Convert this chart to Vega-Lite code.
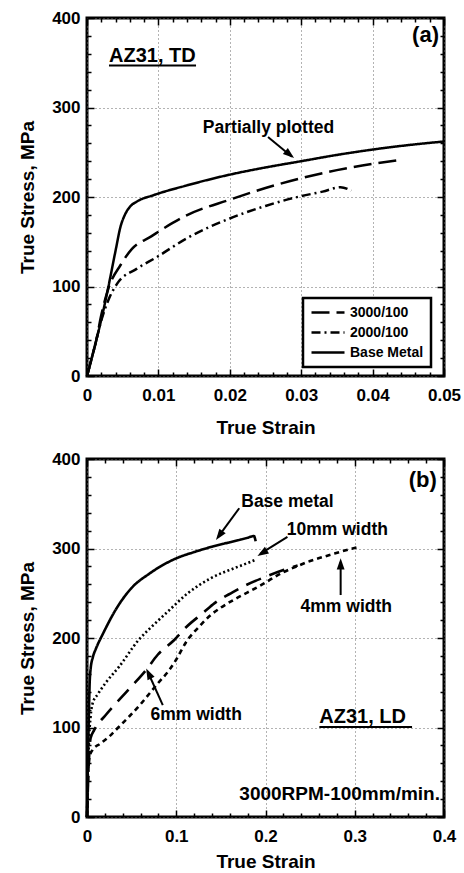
{
  "$schema": "https://vega.github.io/schema/vega-lite/v6.json",
  "padding": {"left": 17, "top": 7, "right": 5, "bottom": 0},
  "spacing": 9,
  "config": {
    "font": "Liberation Sans",
    "view": {"stroke": "black", "strokeWidth": 3},
    "axis": {
      "labelFont": "Liberation Sans", "labelFontWeight": "bold", "labelFontSize": 17, "labelColor": "black",
      "titleFont": "Liberation Sans", "titleFontWeight": "bold", "titleFontSize": 19, "titleColor": "black",
      "tickColor": "black", "tickWidth": 1.5, "domain": false, "labelFlush": false, "labelOverlap": false, "labelBound": false,
      "gridColor": "#666", "gridDash": [1, 3], "gridWidth": 1
    },
    "legend": {"strokeWidth": 2.5},
    "text": {"font": "Liberation Sans", "fontWeight": "bold", "color": "black"}
  },
  "datasets": {
    "curvesA": [
      {"series": "Base Metal", "strain": 0, "stress": 0},
      {"series": "Base Metal", "strain": 0.0005, "stress": 15},
      {"series": "Base Metal", "strain": 0.0013, "stress": 40},
      {"series": "Base Metal", "strain": 0.002, "stress": 63},
      {"series": "Base Metal", "strain": 0.003, "stress": 100},
      {"series": "Base Metal", "strain": 0.004, "stress": 140},
      {"series": "Base Metal", "strain": 0.0047, "stress": 167},
      {"series": "Base Metal", "strain": 0.0053, "stress": 180},
      {"series": "Base Metal", "strain": 0.006, "stress": 189},
      {"series": "Base Metal", "strain": 0.007, "stress": 195},
      {"series": "Base Metal", "strain": 0.0093, "stress": 202},
      {"series": "Base Metal", "strain": 0.014, "stress": 213},
      {"series": "Base Metal", "strain": 0.02, "stress": 225},
      {"series": "Base Metal", "strain": 0.025, "stress": 233},
      {"series": "Base Metal", "strain": 0.03, "stress": 240},
      {"series": "Base Metal", "strain": 0.035, "stress": 247},
      {"series": "Base Metal", "strain": 0.04, "stress": 253},
      {"series": "Base Metal", "strain": 0.045, "stress": 258},
      {"series": "Base Metal", "strain": 0.05, "stress": 262},
      {"series": "3000/100", "strain": 0, "stress": 0},
      {"series": "3000/100", "strain": 0.0005, "stress": 15},
      {"series": "3000/100", "strain": 0.0013, "stress": 40},
      {"series": "3000/100", "strain": 0.002, "stress": 68},
      {"series": "3000/100", "strain": 0.003, "stress": 98},
      {"series": "3000/100", "strain": 0.0047, "stress": 124},
      {"series": "3000/100", "strain": 0.0063, "stress": 142},
      {"series": "3000/100", "strain": 0.009, "stress": 156},
      {"series": "3000/100", "strain": 0.012, "stress": 171},
      {"series": "3000/100", "strain": 0.0141, "stress": 180},
      {"series": "3000/100", "strain": 0.02, "stress": 197},
      {"series": "3000/100", "strain": 0.025, "stress": 210},
      {"series": "3000/100", "strain": 0.03, "stress": 221},
      {"series": "3000/100", "strain": 0.035, "stress": 230},
      {"series": "3000/100", "strain": 0.04, "stress": 237},
      {"series": "3000/100", "strain": 0.0435, "stress": 241},
      {"series": "2000/100", "strain": 0, "stress": 0},
      {"series": "2000/100", "strain": 0.0005, "stress": 15},
      {"series": "2000/100", "strain": 0.0013, "stress": 40},
      {"series": "2000/100", "strain": 0.002, "stress": 62},
      {"series": "2000/100", "strain": 0.003, "stress": 85},
      {"series": "2000/100", "strain": 0.0042, "stress": 103},
      {"series": "2000/100", "strain": 0.007, "stress": 120},
      {"series": "2000/100", "strain": 0.0098, "stress": 133},
      {"series": "2000/100", "strain": 0.014, "stress": 154},
      {"series": "2000/100", "strain": 0.02, "stress": 176},
      {"series": "2000/100", "strain": 0.025, "stress": 190},
      {"series": "2000/100", "strain": 0.03, "stress": 201},
      {"series": "2000/100", "strain": 0.033, "stress": 206},
      {"series": "2000/100", "strain": 0.0355, "stress": 211},
      {"series": "2000/100", "strain": 0.0365, "stress": 209},
      {"series": "2000/100", "strain": 0.037, "stress": 207}
    ],
    "curvesB": [
      {"curve": "Base metal", "strain": 0, "stress": 0},
      {"curve": "Base metal", "strain": 0.001, "stress": 60},
      {"curve": "Base metal", "strain": 0.002, "stress": 110},
      {"curve": "Base metal", "strain": 0.003, "stress": 150},
      {"curve": "Base metal", "strain": 0.004, "stress": 165},
      {"curve": "Base metal", "strain": 0.0067, "stress": 179},
      {"curve": "Base metal", "strain": 0.01, "stress": 188},
      {"curve": "Base metal", "strain": 0.018, "stress": 205},
      {"curve": "Base metal", "strain": 0.033, "stress": 233},
      {"curve": "Base metal", "strain": 0.05, "stress": 256},
      {"curve": "Base metal", "strain": 0.07, "stress": 272},
      {"curve": "Base metal", "strain": 0.1, "stress": 289},
      {"curve": "Base metal", "strain": 0.12, "stress": 296},
      {"curve": "Base metal", "strain": 0.14, "stress": 302},
      {"curve": "Base metal", "strain": 0.16, "stress": 307},
      {"curve": "Base metal", "strain": 0.18, "stress": 312},
      {"curve": "Base metal", "strain": 0.187, "stress": 314},
      {"curve": "Base metal", "strain": 0.189, "stress": 308},
      {"curve": "10mm width", "strain": 0, "stress": 0},
      {"curve": "10mm width", "strain": 0.002, "stress": 80},
      {"curve": "10mm width", "strain": 0.004, "stress": 112},
      {"curve": "10mm width", "strain": 0.0063, "stress": 127},
      {"curve": "10mm width", "strain": 0.012, "stress": 137},
      {"curve": "10mm width", "strain": 0.021, "stress": 150},
      {"curve": "10mm width", "strain": 0.036, "stress": 168},
      {"curve": "10mm width", "strain": 0.058, "stress": 198},
      {"curve": "10mm width", "strain": 0.075, "stress": 215},
      {"curve": "10mm width", "strain": 0.09, "stress": 229},
      {"curve": "10mm width", "strain": 0.113, "stress": 250},
      {"curve": "10mm width", "strain": 0.139, "stress": 267},
      {"curve": "10mm width", "strain": 0.165, "stress": 278},
      {"curve": "10mm width", "strain": 0.183, "stress": 285},
      {"curve": "10mm width", "strain": 0.19, "stress": 288},
      {"curve": "6mm width", "strain": 0, "stress": 0},
      {"curve": "6mm width", "strain": 0.002, "stress": 60},
      {"curve": "6mm width", "strain": 0.004, "stress": 88},
      {"curve": "6mm width", "strain": 0.008, "stress": 97},
      {"curve": "6mm width", "strain": 0.021, "stress": 114},
      {"curve": "6mm width", "strain": 0.038, "stress": 133},
      {"curve": "6mm width", "strain": 0.049, "stress": 145},
      {"curve": "6mm width", "strain": 0.066, "stress": 164},
      {"curve": "6mm width", "strain": 0.079, "stress": 181},
      {"curve": "6mm width", "strain": 0.098, "stress": 198},
      {"curve": "6mm width", "strain": 0.111, "stress": 212},
      {"curve": "6mm width", "strain": 0.13, "stress": 228},
      {"curve": "6mm width", "strain": 0.143, "stress": 239},
      {"curve": "6mm width", "strain": 0.163, "stress": 251},
      {"curve": "6mm width", "strain": 0.178, "stress": 259},
      {"curve": "6mm width", "strain": 0.199, "stress": 268},
      {"curve": "6mm width", "strain": 0.22, "stress": 276},
      {"curve": "6mm width", "strain": 0.236, "stress": 281},
      {"curve": "4mm width", "strain": 0, "stress": 0},
      {"curve": "4mm width", "strain": 0.001, "stress": 40},
      {"curve": "4mm width", "strain": 0.003, "stress": 68},
      {"curve": "4mm width", "strain": 0.0063, "stress": 75},
      {"curve": "4mm width", "strain": 0.015, "stress": 82},
      {"curve": "4mm width", "strain": 0.025, "stress": 90},
      {"curve": "4mm width", "strain": 0.035, "stress": 100},
      {"curve": "4mm width", "strain": 0.047, "stress": 112},
      {"curve": "4mm width", "strain": 0.06, "stress": 126},
      {"curve": "4mm width", "strain": 0.07, "stress": 138},
      {"curve": "4mm width", "strain": 0.08, "stress": 150},
      {"curve": "4mm width", "strain": 0.092, "stress": 164},
      {"curve": "4mm width", "strain": 0.1, "stress": 176},
      {"curve": "4mm width", "strain": 0.112, "stress": 197},
      {"curve": "4mm width", "strain": 0.125, "stress": 212},
      {"curve": "4mm width", "strain": 0.139, "stress": 226},
      {"curve": "4mm width", "strain": 0.15, "stress": 234},
      {"curve": "4mm width", "strain": 0.165, "stress": 243},
      {"curve": "4mm width", "strain": 0.18, "stress": 251},
      {"curve": "4mm width", "strain": 0.195, "stress": 259},
      {"curve": "4mm width", "strain": 0.21, "stress": 268},
      {"curve": "4mm width", "strain": 0.221, "stress": 274},
      {"curve": "4mm width", "strain": 0.235, "stress": 280},
      {"curve": "4mm width", "strain": 0.25, "stress": 286},
      {"curve": "4mm width", "strain": 0.273, "stress": 293},
      {"curve": "4mm width", "strain": 0.29, "stress": 298},
      {"curve": "4mm width", "strain": 0.306, "stress": 302}
    ]
  },
  "resolve": {"scale": {"strokeDash": "independent", "x": "independent", "y": "independent"}},
  "vconcat": [
    {
      "width": 357,
      "height": 358,
      "resolve": {"axis": {"x": "independent", "y": "independent"}},
      "layer": [
        {
          "data": {"name": "curvesA"},
          "mark": {"type": "line", "color": "black", "strokeWidth": 2.5, "interpolate": "monotone", "strokeCap": "butt"},
          "encoding": {
            "x": {"field": "strain", "type": "quantitative", "scale": {"domain": [0, 0.05], "nice": false},
              "axis": {"orient": "bottom",
                "values": [0,0.002,0.004,0.006,0.008,0.01,0.012,0.014,0.016,0.018,0.02,0.022,0.024,0.026,0.028,0.03,0.032,0.034,0.036,0.038,0.04,0.042,0.044,0.046,0.048,0.05],
                "labelExpr": "abs(datum.value*100-round(datum.value*100))<0.001 ? format(datum.value,'~g') : ''",
                "grid": true,
                "gridOpacity": {"condition": {"test": "abs(datum.value*100-round(datum.value*100))<0.001", "value": 1}, "value": 0},
                "tickSize": {"condition": {"test": "abs(datum.value*100-round(datum.value*100))<0.001", "value": -7}, "value": -4},
                "labelPadding": 18, "title": "True Strain", "titlePadding": 12}},
            "y": {"field": "stress", "type": "quantitative", "scale": {"domain": [0, 400], "nice": false},
              "axis": {"orient": "left",
                "values": [0,20,40,60,80,100,120,140,160,180,200,220,240,260,280,300,320,340,360,380,400],
                "labelExpr": "datum.value % 100 === 0 ? format(datum.value,'d') : ''",
                "grid": true,
                "gridOpacity": {"condition": {"test": "datum.value % 100 === 0", "value": 1}, "value": 0},
                "tickSize": {"condition": {"test": "datum.value % 100 === 0", "value": -7}, "value": -4},
                "labelPadding": 14, "title": "True Stress, MPa", "titlePadding": 14}},
            "strokeDash": {"field": "series", "type": "nominal",
              "scale": {"domain": ["3000/100", "2000/100", "Base Metal"], "range": [[18, 7], [9, 4, 2, 4], [1, 0]]},
              "legend": {"orient": "none", "legendX": 216, "legendY": 280, "title": null,
                "symbolType": "M-1,0H4.5", "symbolSize": 144, "symbolStrokeWidth": 2.5, "symbolStrokeColor": "black", "symbolFillColor": "transparent",
                "labelFont": "Liberation Sans", "labelFontWeight": "bold", "labelFontSize": 14, "labelColor": "black",
                "strokeColor": "black", "fillColor": "white", "padding": 7, "rowPadding": 5, "labelOffset": 25}}
          }
        },
        {
          "data": {"values": [{"strain": 0.0493, "stress": 373, "label": "(a)"}]},
          "mark": {"type": "text", "align": "right", "baseline": "alphabetic", "fontSize": 22},
          "encoding": {
            "x": {"field": "strain", "type": "quantitative",
              "axis": {"orient": "top", "labels": false, "grid": false, "title": null,
                "values": [0,0.002,0.004,0.006,0.008,0.01,0.012,0.014,0.016,0.018,0.02,0.022,0.024,0.026,0.028,0.03,0.032,0.034,0.036,0.038,0.04,0.042,0.044,0.046,0.048,0.05],
                "tickSize": {"condition": {"test": "abs(datum.value*100-round(datum.value*100))<0.001", "value": -7}, "value": -4}}},
            "y": {"field": "stress", "type": "quantitative",
              "axis": {"orient": "right", "labels": false, "grid": false, "title": null,
                "values": [0,20,40,60,80,100,120,140,160,180,200,220,240,260,280,300,320,340,360,380,400],
                "tickSize": {"condition": {"test": "datum.value % 100 === 0", "value": -7}, "value": -4}}},
            "text": {"field": "label"}
          }
        },
        {
          "data": {"values": [{"strain": 0.00308, "stress": 351, "label": "AZ31, TD"}]},
          "mark": {"type": "text", "align": "left", "baseline": "alphabetic", "fontSize": 20},
          "encoding": {
            "x": {"field": "strain", "type": "quantitative", "axis": null},
            "y": {"field": "stress", "type": "quantitative", "axis": null},
            "text": {"field": "label"}
          }
        },
        {
          "data": {"values": [{"strain": 0.02542, "stress": 271.5, "label": "Partially plotted"}]},
          "mark": {"type": "text", "align": "center", "baseline": "alphabetic", "fontSize": 17.5},
          "encoding": {
            "x": {"field": "strain", "type": "quantitative", "axis": null},
            "y": {"field": "stress", "type": "quantitative", "axis": null},
            "text": {"field": "label"}
          }
        },
        {
          "data": {"values": [{"strain": 0.00308, "strain2": 0.01527, "stress": 347}]},
          "mark": {"type": "rule", "color": "black", "strokeWidth": 2},
          "encoding": {
            "x": {"field": "strain", "type": "quantitative", "axis": null},
            "x2": {"field": "strain2"},
            "y": {"field": "stress", "type": "quantitative", "axis": null}
          }
        },
        {
          "data": {"values": [{"strain": 0.02535, "stress": 267, "strain2": 0.0287, "stress2": 245}]},
          "mark": {"type": "rule", "color": "black", "strokeWidth": 2},
          "encoding": {
            "x": {"field": "strain", "type": "quantitative", "axis": null},
            "y": {"field": "stress", "type": "quantitative", "axis": null},
            "x2": {"field": "strain2"},
            "y2": {"field": "stress2"}
          }
        },
        {
          "data": {"values": [{"strain": 0.029, "stress": 243.6}]},
          "mark": {"type": "point", "shape": "M0,0L-0.35,1L0.35,1Z", "filled": true, "color": "black", "opacity": 1, "size": 500, "angle": 129},
          "encoding": {
            "x": {"field": "strain", "type": "quantitative", "axis": null},
            "y": {"field": "stress", "type": "quantitative", "axis": null}
          }
        }
      ]
    },
    {
      "width": 357,
      "height": 358,
      "resolve": {"axis": {"x": "independent", "y": "independent"}},
      "layer": [
        {
          "data": {"name": "curvesB"},
          "mark": {"type": "line", "color": "black", "strokeWidth": 2.6, "interpolate": "monotone", "strokeCap": "butt"},
          "encoding": {
            "x": {"field": "strain", "type": "quantitative", "scale": {"domain": [0, 0.4], "nice": false},
              "axis": {"orient": "bottom",
                "values": [0,0.02,0.04,0.06,0.08,0.1,0.12,0.14,0.16,0.18,0.2,0.22,0.24,0.26,0.28,0.3,0.32,0.34,0.36,0.38,0.4],
                "labelExpr": "abs(datum.value*10-round(datum.value*10))<0.001 ? format(datum.value,'~g') : ''",
                "grid": true,
                "gridOpacity": {"condition": {"test": "abs(datum.value*10-round(datum.value*10))<0.001", "value": 1}, "value": 0},
                "tickSize": {"condition": {"test": "abs(datum.value*10-round(datum.value*10))<0.001", "value": -7}, "value": -4},
                "labelPadding": 18, "title": "True Strain", "titlePadding": 5}},
            "y": {"field": "stress", "type": "quantitative", "scale": {"domain": [0, 400], "nice": false},
              "axis": {"orient": "left",
                "values": [0,20,40,60,80,100,120,140,160,180,200,220,240,260,280,300,320,340,360,380,400],
                "labelExpr": "datum.value % 100 === 0 ? format(datum.value,'d') : ''",
                "grid": true,
                "gridOpacity": {"condition": {"test": "datum.value % 100 === 0", "value": 1}, "value": 0},
                "tickSize": {"condition": {"test": "datum.value % 100 === 0", "value": -7}, "value": -4},
                "labelPadding": 14, "title": "True Stress, MPa", "titlePadding": 14}},
            "strokeDash": {"field": "curve", "type": "nominal",
              "scale": {"domain": ["Base metal", "10mm width", "6mm width", "4mm width"], "range": [[1, 0], [2, 2.5], [16, 9], [5, 4]]},
              "legend": null}
          }
        },
        {
          "data": {"values": [{"strain": 0.392, "stress": 369, "label": "(b)"}]},
          "mark": {"type": "text", "align": "right", "baseline": "alphabetic", "fontSize": 22},
          "encoding": {
            "x": {"field": "strain", "type": "quantitative",
              "axis": {"orient": "top", "labels": false, "grid": false, "title": null,
                "values": [0,0.02,0.04,0.06,0.08,0.1,0.12,0.14,0.16,0.18,0.2,0.22,0.24,0.26,0.28,0.3,0.32,0.34,0.36,0.38,0.4],
                "tickSize": {"condition": {"test": "abs(datum.value*10-round(datum.value*10))<0.001", "value": -7}, "value": -4}}},
            "y": {"field": "stress", "type": "quantitative",
              "axis": {"orient": "right", "labels": false, "grid": false, "title": null,
                "values": [0,20,40,60,80,100,120,140,160,180,200,220,240,260,280,300,320,340,360,380,400],
                "tickSize": {"condition": {"test": "datum.value % 100 === 0", "value": -7}, "value": -4}}},
            "text": {"field": "label"}
          }
        },
        {
          "data": {"values": [
            {"strain": 0.2246, "stress": 346.4, "label": "Base metal"},
            {"strain": 0.2805, "stress": 315, "label": "10mm width"},
            {"strain": 0.2905, "stress": 229, "label": "4mm width"},
            {"strain": 0.1223, "stress": 108.4, "label": "6mm width"}
          ]},
          "mark": {"type": "text", "align": "center", "baseline": "alphabetic", "fontSize": 17.5},
          "encoding": {
            "x": {"field": "strain", "type": "quantitative", "axis": null},
            "y": {"field": "stress", "type": "quantitative", "axis": null},
            "text": {"field": "label"}
          }
        },
        {
          "data": {"values": [{"strain": 0.2603, "stress": 105, "label": "AZ31, LD"}]},
          "mark": {"type": "text", "align": "left", "baseline": "alphabetic", "fontSize": 20},
          "encoding": {
            "x": {"field": "strain", "type": "quantitative", "axis": null},
            "y": {"field": "stress", "type": "quantitative", "axis": null},
            "text": {"field": "label"}
          }
        },
        {
          "data": {"values": [{"strain": 0.3955, "stress": 19, "label": "3000RPM-100mm/min."}]},
          "mark": {"type": "text", "align": "right", "baseline": "alphabetic", "fontSize": 19},
          "encoding": {
            "x": {"field": "strain", "type": "quantitative", "axis": null},
            "y": {"field": "stress", "type": "quantitative", "axis": null},
            "text": {"field": "label"}
          }
        },
        {
          "data": {"values": [{"strain": 0.2603, "strain2": 0.3642, "stress": 100.6}]},
          "mark": {"type": "rule", "color": "black", "strokeWidth": 2},
          "encoding": {
            "x": {"field": "strain", "type": "quantitative", "axis": null},
            "x2": {"field": "strain2"},
            "y": {"field": "stress", "type": "quantitative", "axis": null}
          }
        },
        {
          "data": {"values": [
            {"arrow": "base", "strain": 0.1706, "stress": 345, "strain2": 0.147, "stress2": 313},
            {"arrow": "10mm", "strain": 0.2246, "stress": 313, "strain2": 0.194, "stress2": 294},
            {"arrow": "4mm", "strain": 0.2842, "stress": 248, "strain2": 0.2842, "stress2": 285},
            {"arrow": "6mm", "strain": 0.0849, "stress": 125, "strain2": 0.0682, "stress2": 162}
          ]},
          "mark": {"type": "rule", "color": "black", "strokeWidth": 2},
          "encoding": {
            "x": {"field": "strain", "type": "quantitative", "axis": null},
            "y": {"field": "stress", "type": "quantitative", "axis": null},
            "x2": {"field": "strain2"},
            "y2": {"field": "stress2"}
          }
        },
        {
          "data": {"values": [{"strain": 0.1445, "stress": 309.5}]},
          "mark": {"type": "point", "shape": "M0,0L-0.35,1L0.35,1Z", "filled": true, "color": "black", "opacity": 1, "size": 500, "angle": 216},
          "encoding": {
            "x": {"field": "strain", "type": "quantitative", "axis": null},
            "y": {"field": "stress", "type": "quantitative", "axis": null}
          }
        },
        {
          "data": {"values": [{"strain": 0.191, "stress": 291.6}]},
          "mark": {"type": "point", "shape": "M0,0L-0.35,1L0.35,1Z", "filled": true, "color": "black", "opacity": 1, "size": 500, "angle": 238},
          "encoding": {
            "x": {"field": "strain", "type": "quantitative", "axis": null},
            "y": {"field": "stress", "type": "quantitative", "axis": null}
          }
        },
        {
          "data": {"values": [{"strain": 0.2842, "stress": 289}]},
          "mark": {"type": "point", "shape": "M0,0L-0.35,1L0.35,1Z", "filled": true, "color": "black", "opacity": 1, "size": 500, "angle": 0},
          "encoding": {
            "x": {"field": "strain", "type": "quantitative", "axis": null},
            "y": {"field": "stress", "type": "quantitative", "axis": null}
          }
        },
        {
          "data": {"values": [{"strain": 0.0663, "stress": 166}]},
          "mark": {"type": "point", "shape": "M0,0L-0.35,1L0.35,1Z", "filled": true, "color": "black", "opacity": 1, "size": 500, "angle": 334},
          "encoding": {
            "x": {"field": "strain", "type": "quantitative", "axis": null},
            "y": {"field": "stress", "type": "quantitative", "axis": null}
          }
        }
      ]
    }
  ]
}
